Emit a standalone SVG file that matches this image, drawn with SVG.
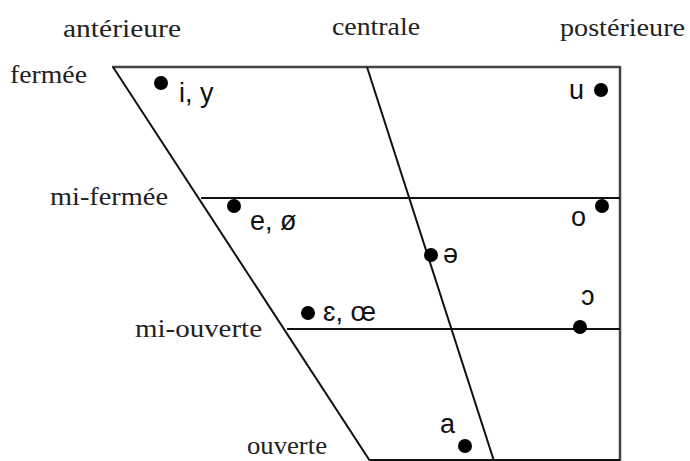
<svg xmlns="http://www.w3.org/2000/svg" width="690" height="461" viewBox="0 0 690 461">
<style>
.lbl{font-family:"Liberation Serif","Times New Roman",serif;font-size:25px;fill:#222}
.ipa{font-family:"Liberation Sans",Arial,sans-serif;font-size:27px;fill:#111}
.ln{stroke:#111;stroke-width:2;fill:none}
.fr{stroke:#444;stroke-width:2.5;fill:none}
.dot{fill:#000}
</style>
<rect width="690" height="461" fill="#fff"/>
<g id="headers">
<text class="lbl" x="63" y="37" textLength="118" lengthAdjust="spacingAndGlyphs">antérieure</text>
<text class="lbl" x="332" y="35" textLength="88" lengthAdjust="spacingAndGlyphs">centrale</text>
<text class="lbl" x="560" y="36" textLength="125" lengthAdjust="spacingAndGlyphs">postérieure</text>
<text class="lbl" x="10" y="83" textLength="77" lengthAdjust="spacingAndGlyphs">fermée</text>
<text class="lbl" x="50" y="205" textLength="118" lengthAdjust="spacingAndGlyphs">mi-fermée</text>
<text class="lbl" x="135" y="337" textLength="127" lengthAdjust="spacingAndGlyphs">mi-ouverte</text>
<text class="lbl" x="247" y="454" textLength="80" lengthAdjust="spacingAndGlyphs">ouverte</text>
</g>
<g id="connectors">
<line class="fr" x1="112" y1="67" x2="620" y2="67"/>
<line class="fr" x1="620" y1="66" x2="620" y2="461"/>
<line class="ln" x1="113" y1="67" x2="370" y2="461"/>
<line class="ln" x1="367" y1="67" x2="494" y2="461"/>
<line class="ln" x1="201" y1="198" x2="620" y2="198"/>
<line class="ln" x1="287" y1="329" x2="620" y2="329"/>
<line class="ln" x1="369" y1="460" x2="620" y2="460"/>
</g>
<g id="v-iy"><circle class="dot" cx="161" cy="83" r="7"/><text class="ipa" x="179" y="102">i, y</text></g>
<g id="v-u"><circle class="dot" cx="601" cy="90" r="7"/><text class="ipa" x="569" y="99">u</text></g>
<g id="v-e"><circle class="dot" cx="234" cy="206" r="7"/><text class="ipa" x="250" y="230">e, ø</text></g>
<g id="v-o"><circle class="dot" cx="602" cy="206" r="7"/><text class="ipa" x="571" y="226">o</text></g>
<g id="v-schwa"><circle class="dot" cx="431" cy="255" r="7"/><text class="ipa" x="443" y="263">ə</text></g>
<g id="v-eps"><circle class="dot" cx="308" cy="313" r="7"/><text class="ipa" x="323" y="321">ɛ, œ</text></g>
<g id="v-open-o"><circle class="dot" cx="580" cy="327" r="7"/><text class="ipa" x="581" y="305">ɔ</text></g>
<g id="v-a"><circle class="dot" cx="465" cy="446" r="7"/><text class="ipa" x="440" y="433">a</text></g>
</svg>
